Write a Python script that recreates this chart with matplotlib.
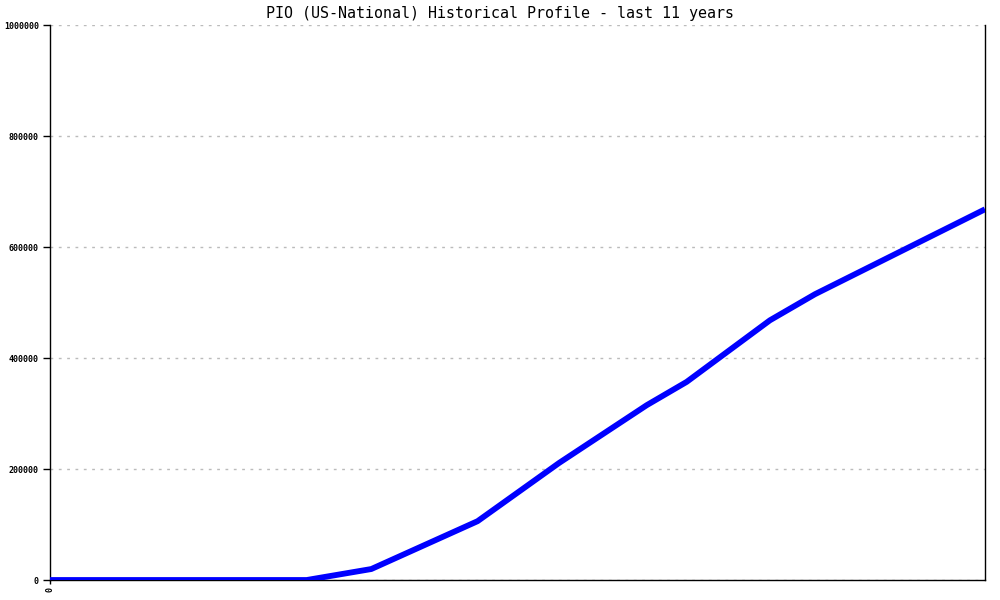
import matplotlib.pyplot as plt

# position along the 11-year span (years) and profile value
t = [0.0, 3.02, 3.78, 5.03, 5.99, 7.02, 7.49, 8.47, 9.0, 11.0]
value = [0, 0, 19800, 106000, 211000, 315000, 357000, 468000, 515000, 668000]
yticks = [0, 200000, 400000, 600000, 800000, 1000000]

fig = plt.figure(figsize=(10, 6), dpi=100)
ax = fig.add_axes([0.05, 0.0333, 0.935, 0.925])

ax.plot(t, value, color='#0000ff', linewidth=4.2, solid_capstyle='butt', zorder=3)

ax.set_xlim(0, 11)
ax.set_ylim(0, 1000000)
ax.set_yticks(yticks)
ax.set_yticklabels([str(v) for v in yticks], family='DejaVu Sans Mono',
                   fontsize=6, fontweight='bold')
ax.set_xticks([0])
ax.set_xticklabels(['0'], rotation=90, family='DejaVu Sans Mono',
                   fontsize=6, fontweight='bold')
ax.tick_params(axis='y', length=5, width=1, direction='out', pad=3)
ax.tick_params(axis='x', length=3, width=1, direction='out', pad=2)

ax.grid(axis='y', color='#bbbbbb', linestyle=(0, (2, 4)), linewidth=1)
ax.spines['top'].set_visible(False)
for s in ['left', 'right', 'bottom']:
    ax.spines[s].set_color('black')
    ax.spines[s].set_linewidth(1)

fig.text(0.5, 0.978, 'PIO (US-National) Historical Profile - last 11 years',
         family='DejaVu Sans Mono', fontsize=10.8, ha='center', va='center')

fig.savefig('out.png', dpi=100)
